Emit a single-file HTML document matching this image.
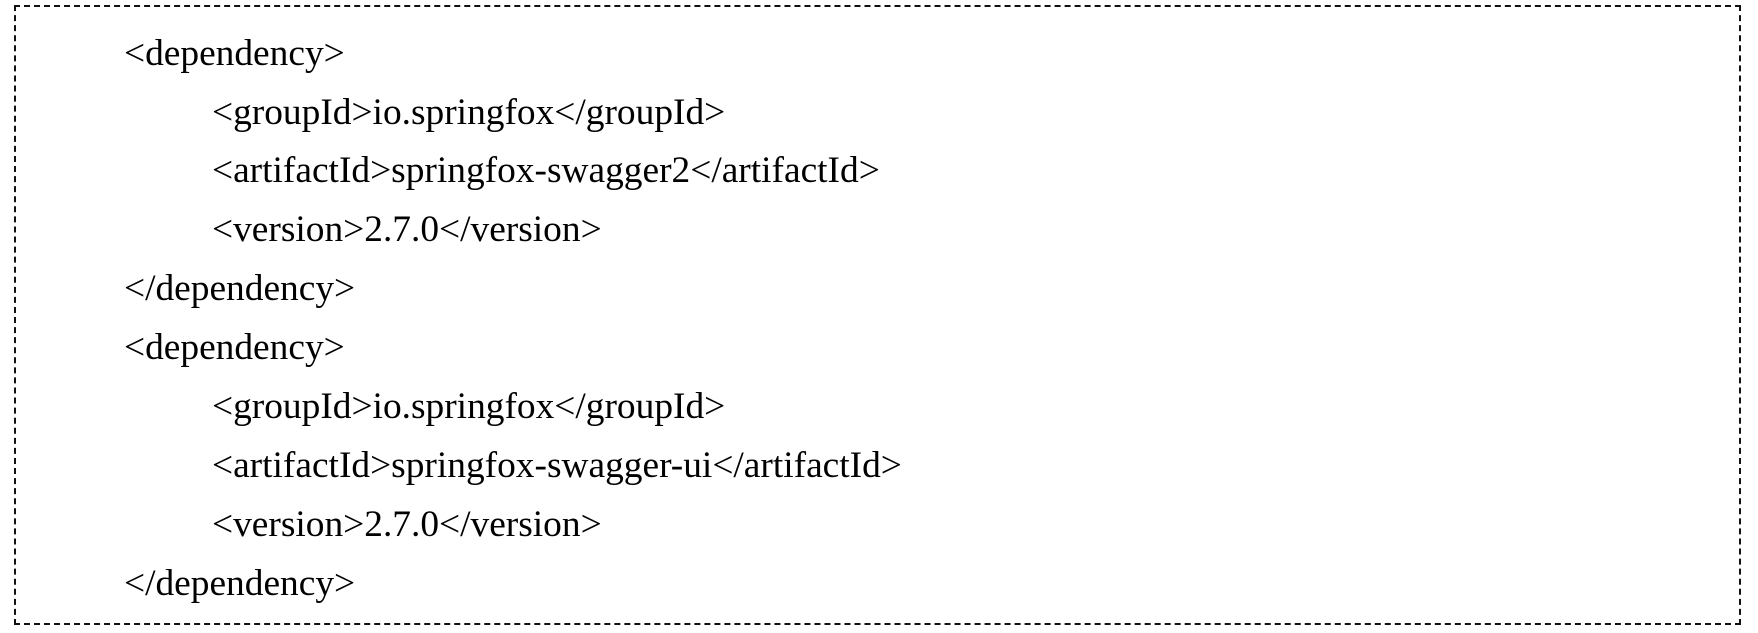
<!DOCTYPE html>
<html><head><meta charset="utf-8"><style>
html,body{margin:0;padding:0;background:#fff;width:1758px;height:633px;overflow:hidden;}
.box{position:absolute;left:14px;top:5px;width:1723px;height:616px;border:2px dashed #111;}
.t{position:absolute;font-family:"Liberation Serif",serif;font-size:37.4px;color:#000;white-space:pre;line-height:1;}
</style></head><body>
<div class="box"></div>
<div class="t" style="left:124px;top:35px">&lt;dependency&gt;</div>
<div class="t" style="left:212px;top:94px">&lt;groupId&gt;io.springfox&lt;/groupId&gt;</div>
<div class="t" style="left:212px;top:152px">&lt;artifactId&gt;springfox-swagger2&lt;/artifactId&gt;</div>
<div class="t" style="left:212px;top:211px">&lt;version&gt;2.7.0&lt;/version&gt;</div>
<div class="t" style="left:124px;top:270px">&lt;/dependency&gt;</div>
<div class="t" style="left:124px;top:329px">&lt;dependency&gt;</div>
<div class="t" style="left:212px;top:388px">&lt;groupId&gt;io.springfox&lt;/groupId&gt;</div>
<div class="t" style="left:212px;top:447px">&lt;artifactId&gt;springfox-swagger-ui&lt;/artifactId&gt;</div>
<div class="t" style="left:212px;top:506px">&lt;version&gt;2.7.0&lt;/version&gt;</div>
<div class="t" style="left:124px;top:565px">&lt;/dependency&gt;</div>
</body></html>
